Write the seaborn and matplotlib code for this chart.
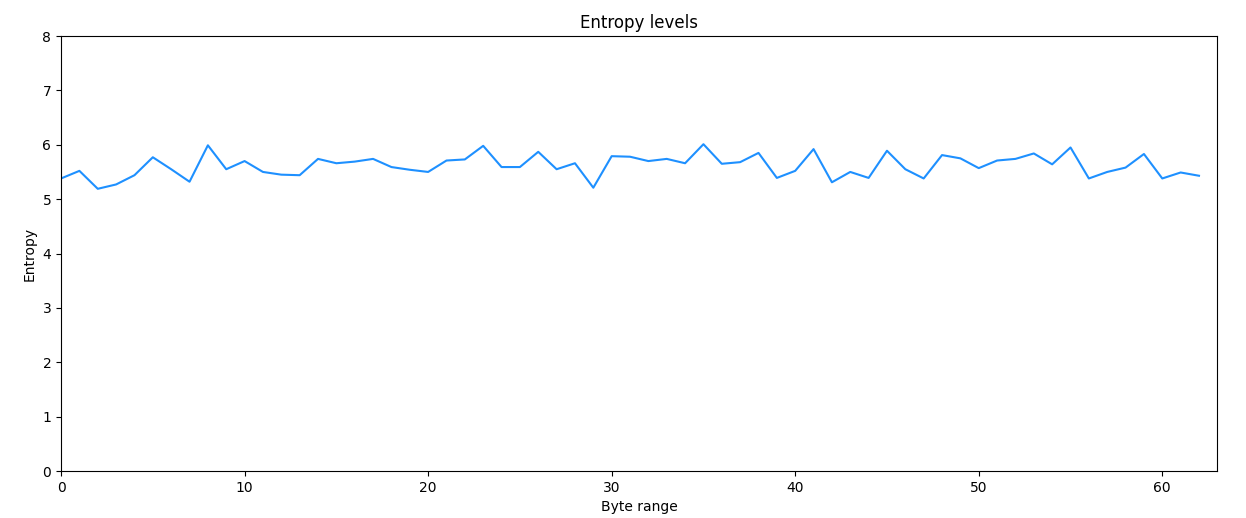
import numpy as np
import pandas as pd
import seaborn as sns
import matplotlib
matplotlib.use('Agg')
import matplotlib.pyplot as plt

# entropy per byte range
entropy = [5.38, 5.52, 5.19, 5.27, 5.44, 5.77, 5.55, 5.32, 5.99, 5.55,
           5.70, 5.50, 5.45, 5.44, 5.74, 5.66, 5.69, 5.74, 5.59, 5.54,
           5.50, 5.71, 5.73, 5.98, 5.59, 5.59, 5.87, 5.55, 5.66, 5.21,
           5.79, 5.78, 5.70, 5.74, 5.66, 6.01, 5.65, 5.68, 5.85, 5.39,
           5.52, 5.92, 5.31, 5.50, 5.39, 5.89, 5.55, 5.38, 5.81, 5.75,
           5.57, 5.71, 5.74, 5.84, 5.64, 5.95, 5.38, 5.50, 5.58, 5.83,
           5.38, 5.49, 5.43]
byte_range = list(range(len(entropy)))

df = pd.DataFrame({'Byte range': byte_range, 'Entropy': entropy})

fig = plt.figure(figsize=(12.46, 5.18), dpi=100)
ax = fig.add_axes([0.049, 0.0907, 0.928, 0.8398])
sns.lineplot(data=df, x='Byte range', y='Entropy', color='dodgerblue', ax=ax)
ax.set_xlim(0, len(entropy))
ax.set_ylim(0, 8)
ax.set_title('Entropy levels')
fig.savefig('out.png', dpi=100)
